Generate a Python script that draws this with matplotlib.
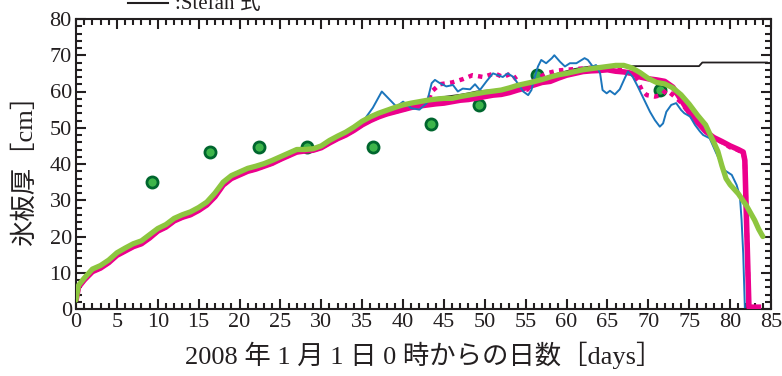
import matplotlib
matplotlib.use("Agg")
import matplotlib.pyplot as plt
from matplotlib.ticker import MultipleLocator

plt.rcParams['font.family'] = ['Liberation Serif', 'Noto Sans CJK JP']

# 観測値 (green dots)
obs_day = [9.3, 16.4, 22.4, 28.3, 36.3, 43.4, 49.3, 56.4, 71.4]
obs_thk = [34.9, 43.2, 44.7, 44.6, 44.7, 50.9, 56.3, 64.5, 60.3]

# green thick line
g_day = [0, 0.3, 1, 2, 3, 4, 5, 6, 7, 8, 9, 10, 11, 12, 13, 14, 15, 16, 17, 18,
         19, 20, 21, 22, 23, 24, 25, 26, 27, 28, 29, 30, 31, 32, 33, 34, 35, 36,
         37, 38, 39, 40, 41, 42, 43, 44, 45, 46, 47, 48, 49, 50, 51, 52, 53, 54,
         55, 56, 57, 58, 59, 60, 61, 62, 63, 64, 65, 66, 67, 68, 69, 70, 71, 72,
         73, 74, 75, 76, 77, 78, 78.5, 79, 79.5, 80, 81, 82, 83, 83.5, 84]
g_thk = [2.5, 6.5, 8.5, 11.0, 12.0, 13.5, 15.5, 16.8, 18.0, 18.8, 20.5, 22.2,
         23.3, 25.0, 26.0, 26.8, 28.0, 29.5, 32.0, 35.0, 36.8, 37.8, 38.8, 39.4,
         40.1, 41.0, 42.0, 43.0, 44.0, 44.0, 44.2, 45.0, 46.5, 47.7, 48.8, 50.2,
         51.8, 53.0, 54.0, 54.8, 55.6, 56.3, 56.8, 57.2, 57.6, 57.9, 58.1, 58.1,
         58.6, 59.0, 59.4, 59.8, 60.1, 60.4, 61.0, 61.7, 62.2, 62.7, 63.3, 64.0,
         64.6, 65.0, 65.5, 66.0, 66.3, 66.6, 66.9, 67.2, 67.2, 66.5, 65.2, 63.6,
         62.5, 62.1, 61.0, 59.1, 56.5, 53.5, 50.8, 46.0, 43.5, 39.5, 36.0, 34.3,
         31.8, 28.5, 24.5, 22.0, 20.0]

# magenta thick solid line
m_day = [0, 0.3, 1, 2, 3, 4, 5, 6, 7, 8, 9, 10, 11, 12, 13, 14, 15, 16, 17, 18,
         19, 20, 21, 22, 23, 24, 25, 26, 27, 28, 29, 30, 31, 32, 33, 34, 35, 36,
         37, 38, 39, 40, 41, 42, 43, 44, 45, 46, 47, 48, 49, 50, 51, 52, 53, 54,
         55, 56, 57, 58, 59, 60, 61, 62, 63, 64, 65, 66, 67, 68, 69, 70, 71, 72,
         73, 74, 75, 76, 77, 78, 79, 80, 81, 81.6, 81.8, 82.3, 83.8]
m_thk = [2.3, 6.0, 8.0, 10.3, 11.3, 12.8, 14.8, 16.0, 17.2, 18.0, 19.6, 21.5,
         22.6, 24.3, 25.3, 26.0, 27.2, 28.7, 31.0, 34.2, 36.0, 37.0, 38.0, 38.6,
         39.4, 40.2, 41.3, 42.3, 43.3, 43.6, 43.8, 44.5, 45.8, 47.0, 48.0, 49.3,
         50.8, 52.0, 53.0, 53.8, 54.4, 55.0, 55.6, 56.0, 56.3, 56.6, 56.8, 57.2,
         57.6, 57.8, 58.2, 58.6, 59.0, 59.2, 59.7, 60.4, 61.0, 61.8, 62.5, 62.8,
         63.7, 64.5, 65.0, 65.5, 65.7, 65.8, 66.0, 65.6, 65.4, 65.0, 64.0, 63.5,
         63.2, 62.8, 61.2, 57.7, 54.2, 51.5, 49.0, 47.3, 46.2, 45.0, 44.0, 43.3,
         41.0, 0.5, 0.5]

# magenta dotted line
d_day = [0, 0.3, 1, 2, 3, 4, 5, 6, 7, 8, 9, 10, 11, 12, 13, 14, 15, 16, 17, 18,
         19, 20, 21, 22, 23, 24, 25, 26, 27, 28, 29, 30, 31, 32, 33, 34, 35, 36,
         37, 38, 39, 40, 41, 42, 43, 43.5, 44.5, 46, 47.3, 48.5, 49.8, 51.2, 52.2,
         53.3, 54, 54.7, 55.2, 56, 57.5, 59, 61, 63, 65, 67, 68.1, 68.7, 69.2,
         69.8, 70.8, 71.6, 72.2, 73, 74, 75, 76, 77, 78, 79, 80, 81, 81.6, 81.8,
         82.3, 83.8]
d_thk = [2.3, 6.0, 8.0, 10.3, 11.3, 12.8, 14.8, 16.0, 17.2, 18.0, 19.6, 21.5,
         22.6, 24.3, 25.3, 26.0, 27.2, 28.7, 31.0, 34.2, 36.0, 37.0, 38.0, 38.6,
         39.4, 40.2, 41.3, 42.3, 43.3, 43.6, 43.8, 44.5, 45.8, 47.0, 48.0, 49.3,
         50.8, 52.0, 53.0, 53.8, 54.4, 55.0, 55.6, 56.0, 56.8, 60.0, 62.0, 62.5,
         63.4, 64.5, 64.0, 65.0, 64.0, 65.0, 62.8, 60.8, 60.5, 63.0, 65.0, 65.8,
         66.2, 66.5, 66.5, 66.0, 64.5, 62.8, 60.4, 59.0, 58.6, 59.0, 60.4, 59.0,
         57.0, 54.0, 51.5, 49.0, 47.3, 46.0, 44.6, 43.8, 43.0, 41.0, 0.5, 0.5]

# blue thin line
b_day = [0, 0.3, 1, 2, 3, 4, 5, 6, 7, 8, 9, 10, 11, 12, 13, 14, 15, 16, 17, 18,
         19, 20, 21, 22, 23, 24, 25, 26, 27, 28, 29, 30, 31, 32, 33, 34, 35, 35.5,
         36.3, 37.4, 38.6, 39.2, 40, 41, 42, 42.9, 43.5, 43.9, 44.5, 45.3, 46.1,
         46.7, 47.3, 48.2, 48.8, 49.4, 50.2, 51, 51.6, 52.2, 52.8, 53.5, 54, 54.7,
         55.3, 55.7, 56.1, 56.5, 56.9, 57.5, 58.2, 58.5, 59.2, 59.8, 60.4, 61.2,
         62.2, 62.6, 63.2, 63.6, 64.1, 64.4, 64.9, 65.3, 65.9, 66.5, 67.1, 67.5,
         68.1, 68.7, 69.3, 70.2, 70.8, 71.4, 71.8, 72.2, 72.8, 73.4, 74, 74.4,
         75.1, 75.7, 76.3, 76.7, 77.5, 78.3, 79.3, 80.2, 80.8, 81.2, 81.4, 81.6,
         81.8]
b_thk = [2.5, 6.3, 8.3, 10.7, 11.7, 13.2, 15.2, 16.5, 17.7, 18.5, 20.2, 21.9,
         23.0, 24.7, 25.7, 26.5, 27.7, 29.2, 31.6, 34.7, 36.5, 37.5, 38.5, 39.1,
         39.8, 40.7, 41.7, 42.7, 43.7, 43.8, 44.0, 44.8, 46.2, 47.4, 48.5, 49.8,
         51.3, 53.0, 55.5, 60.0, 57.2, 55.8, 57.2, 55.4, 55.0, 56.8, 62.3, 63.2,
         62.3, 61.4, 61.8, 60.0, 60.8, 60.6, 62.0, 60.4, 62.8, 65.0, 64.5, 64.0,
         65.0, 64.0, 62.3, 60.0, 59.0, 60.4, 64.0, 66.9, 68.7, 67.8, 69.2, 70.0,
         68.2, 66.9, 67.8, 67.8, 69.2, 68.7, 66.9, 67.3, 65.0, 60.4, 59.5, 60.2,
         59.2, 60.6, 63.6, 65.5, 64.0, 61.4, 58.6, 54.4, 52.1, 50.3, 51.2, 54.4,
         56.3, 56.8, 54.9, 54.0, 53.1, 50.8, 49.0, 48.0, 47.1, 43.0, 38.3, 37.0,
         34.2, 31.0, 24.6, 15.4, 0.5]

# Stefan 式 (black)
s_day = [0, 0.3, 1, 2, 3, 4, 5, 6, 7, 8, 9, 10, 11, 12, 13, 14, 15, 16, 17, 18,
         19, 20, 21, 22, 23, 24, 25, 26, 27, 28, 29, 30, 31, 32, 33, 34, 35, 36,
         37, 38, 39, 40, 41, 42, 43, 44, 45, 46, 47, 48, 49, 50, 51, 52, 53, 54,
         55, 56, 57, 58, 59, 60, 61, 62, 63, 64, 76.2, 76.6, 84.5]
s_thk = [2.5, 6.5, 8.5, 11.0, 12.0, 13.5, 15.5, 16.8, 18.0, 18.8, 20.5, 22.2,
         23.3, 25.0, 26.0, 26.8, 28.0, 29.5, 32.0, 35.0, 36.8, 37.8, 38.8, 39.4,
         40.1, 41.0, 42.0, 43.0, 44.0, 44.0, 44.2, 45.0, 46.5, 47.7, 48.8, 50.2,
         51.8, 53.0, 54.0, 54.8, 55.6, 56.3, 57.0, 57.3, 57.8, 58.2, 58.5, 58.8,
         59.1, 59.5, 60.0, 60.2, 60.4, 60.6, 60.8, 61.4, 62.0, 62.8, 63.6, 64.4,
         65.0, 65.6, 66.2, 66.6, 66.9, 67.0, 67.0, 68.0, 68.0]

fig = plt.figure(figsize=(7.82, 3.76), dpi=100)
ax = fig.add_axes([76 / 782, 67 / 376, 695 / 782, 290 / 376])

ax.plot(obs_day, obs_thk, 'o', ms=8, mfc='#3db54a', mec='#00662e', mew=2, zorder=1)
ax.plot(s_day, s_thk, color='#231f20', lw=1.3, zorder=2)
ax.plot(m_day, m_thk, color='#ec008c', lw=4.0, solid_capstyle='butt', zorder=3)
ax.plot(d_day, d_thk, color='#ec008c', lw=3.2, ls=(0, (1, 1.2)), zorder=4)
ax.plot(b_day, b_thk, color='#1b75bc', lw=1.4, zorder=5)
ax.plot(g_day, g_thk, color='#8dc63f', lw=3.8, solid_capstyle='round', zorder=6)

ax.set_xlim(0, 85)
ax.set_ylim(0, 80)
ax.xaxis.set_major_locator(MultipleLocator(5))
ax.xaxis.set_minor_locator(MultipleLocator(1))
ax.yaxis.set_major_locator(MultipleLocator(10))
ax.yaxis.set_minor_locator(MultipleLocator(2))
ax.tick_params(which='both', direction='in', top=True, right=True,
               width=1.5, color='#231f20', labelsize=16, labelcolor='#231f20')
ax.tick_params(which='major', length=7, pad=3)
ax.tick_params(which='minor', length=4)
for s in ax.spines.values():
    s.set_linewidth(1.5)
    s.set_color('#231f20')

ax.set_xlabel('2008 年 1 月 1 日 0 時からの日数［days］', fontsize=19,
              color='#231f20', labelpad=7)
ax.set_ylabel('氷板厚［cm］', fontsize=19, color='#231f20', labelpad=9)

# legend entry at the top edge (cut by the frame, as in the source)
fig.add_artist(plt.Line2D([128 / 782, 168 / 782], [1 - 3 / 376, 1 - 3 / 376],
                          color='#231f20', lw=1.5))
fig.text(175 / 782, 1 - 9 / 376, ':Stefan 式', fontsize=15, color='#231f20',
         va='baseline', ha='left')

fig.savefig('out.png', dpi=100)
